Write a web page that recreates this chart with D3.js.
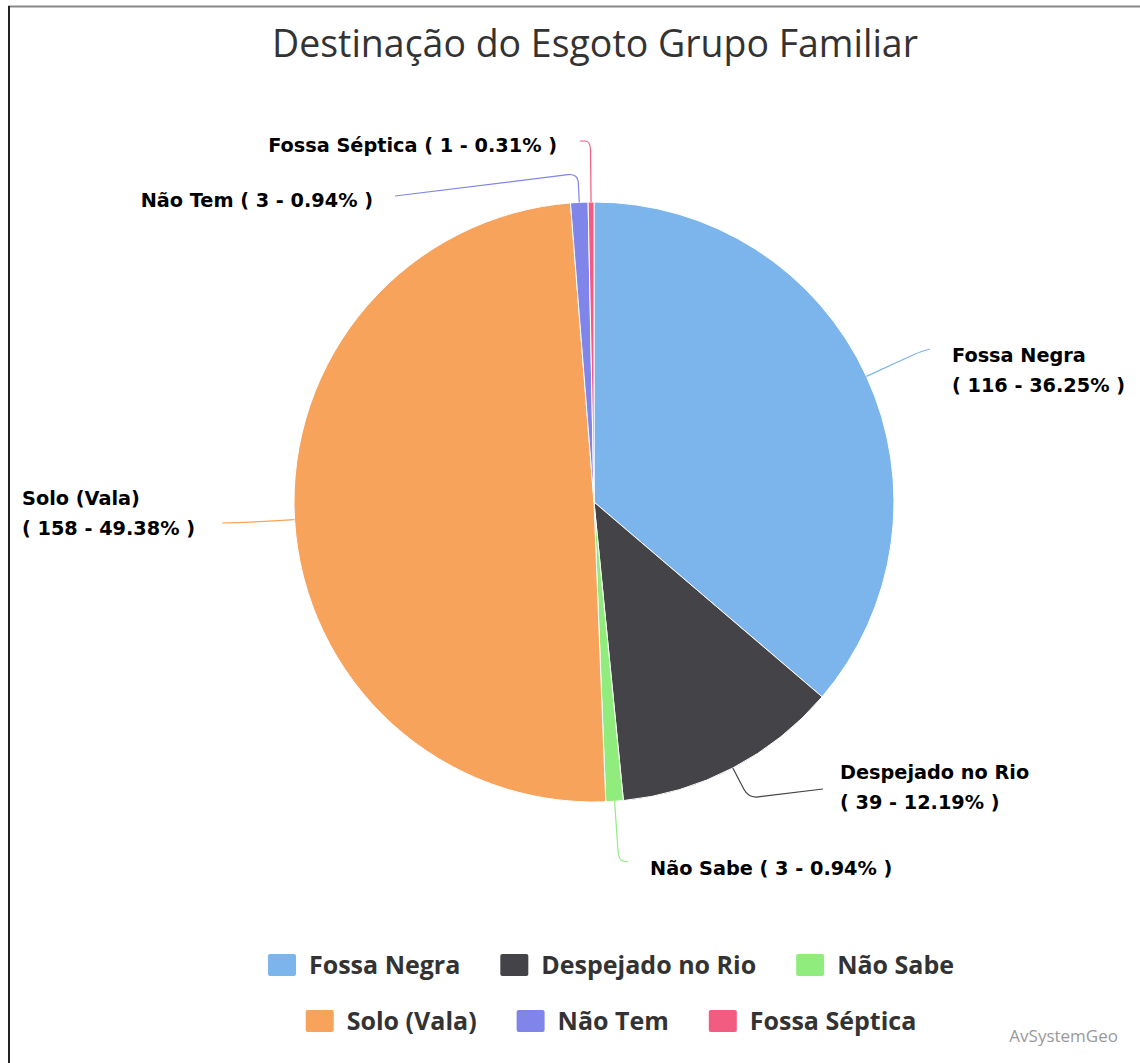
<!DOCTYPE html>
<html>
<head>
<meta charset="utf-8">
<script src="https://cdn.jsdelivr.net/npm/d3@7"></script>
<style>
  body { margin: 0; background: #fff; }
  svg { display: block; }
</style>
</head>
<body>
<script>
// data
const names = ["Fossa Negra", "Despejado no Rio", "Não Sabe", "Solo (Vala)", "Não Tem", "Fossa Séptica"]
const counts = [116, 39, 3, 158, 3, 1]
const colors = ["#7cb5ec", "#434348", "#90ed7d", "#f7a35c", "#8085e9", "#f15c80"]
const legendRows = [[0, 1, 2], [3, 4, 5]]

// label placement (layout only)
const labelPos = [
    { elbow: 357, ex: 930, ey: 349, tx: 952, ty: 362, anchor: "start", split: true },
    { elbow: 334, ex: 823, ey: 789, tx: 840, ty: 779, anchor: "start", split: true },
    { elbow: 359, ex: 628, ey: 862, tx: 650, ty: 875, anchor: "start", split: false },
    { elbow: 340, ex: 222, ey: 523, tx: 22, ty: 505, anchor: "start", split: true },
    { elbow: 329, ex: 395, ey: 196, tx: 373, ty: 207, anchor: "end", split: false },
    { elbow: 361, ex: 580, ey: 141, tx: 557, ty: 152, anchor: "end", split: false }
]

const W = 1140, H = 1063
const cx = 594, cy = 502, R = 300
const total = d3.sum(counts)
const pct = d3.format(".2f")
const narrow = "Liberation Sans Narrow, Open Sans, sans-serif"

const svg = d3.select("body").append("svg")
    .attr("width", W)
    .attr("height", H)

svg.append("rect").attr("width", W).attr("height", H).attr("fill", "#fff")

// frame lines
svg.append("line").attr("x1", 8).attr("x2", W).attr("y1", 6.5).attr("y2", 6.5)
    .attr("stroke", "#888").attr("stroke-width", 2)
svg.append("line").attr("x1", 9).attr("x2", 9).attr("y1", 6).attr("y2", H)
    .attr("stroke", "#222").attr("stroke-width", 2)

svg.append("text")
    .attr("x", 595).attr("y", 57)
    .attr("text-anchor", "middle")
    .attr("font-family", narrow)
    .attr("font-size", 38)
    .attr("fill", "#333")
    .attr("textLength", 646)
    .attr("lengthAdjust", "spacingAndGlyphs")
    .text("Destinação do Esgoto Grupo Familiar")

const pie = d3.pie().sort(null).value(d => d)
const arcs = pie(counts)
const arc = d3.arc().innerRadius(0).outerRadius(R)

const g = svg.append("g").attr("transform", `translate(${cx},${cy})`)

g.selectAll("path.slice")
    .data(arcs)
    .enter()
    .append("path")
    .attr("class", "slice")
    .attr("d", arc)
    .attr("fill", (d, i) => colors[i])
    .attr("stroke", "#fff")
    .attr("stroke-width", 1)
    .attr("stroke-linejoin", "round")

// connectors
function polar(r, a) {
    return [cx + r * Math.sin(a), cy - r * Math.cos(a)]
}
function toward(p, q, dist) {
    const dx = q[0] - p[0], dy = q[1] - p[1]
    const len = Math.sqrt(dx * dx + dy * dy) || 1
    const k = Math.min(dist, len / 2) / len
    return [p[0] + dx * k, p[1] + dy * k]
}

arcs.forEach((d, i) => {
    const lp = labelPos[i]
    const mid = (d.startAngle + d.endAngle) / 2
    const p0 = polar(R, mid)
    const el = polar(lp.elbow, mid)
    const end = [lp.ex, lp.ey]
    const a = toward(el, p0, 10)
    const b = toward(el, end, 10)
    const path = d3.path()
    path.moveTo(p0[0], p0[1])
    path.lineTo(a[0], a[1])
    path.quadraticCurveTo(el[0], el[1], b[0], b[1])
    path.lineTo(end[0], end[1])
    svg.append("path")
        .attr("d", path.toString())
        .attr("fill", "none")
        .attr("stroke", colors[i])
        .attr("stroke-width", 1.2)

    const value = `( ${counts[i]} - ${pct(counts[i] / total * 100)}% )`
    const t = svg.append("text")
        .attr("x", lp.tx).attr("y", lp.ty)
        .attr("text-anchor", lp.anchor)
        .attr("font-family", "DejaVu Sans, sans-serif")
        .attr("font-weight", "bold")
        .attr("font-size", 19.3)
        .attr("fill", "#000")
        .attr("stroke", "#fff")
        .attr("stroke-width", 2)
        .attr("paint-order", "stroke")
    if (lp.split) {
        t.append("tspan").attr("x", lp.tx).text(names[i])
        t.append("tspan").attr("x", lp.tx).attr("dy", 30).text(value)
    } else {
        t.text(`${names[i]} ${value}`)
    }
})

// legend
const rowY = [965, 1021]
legendRows.forEach((row, r) => {
    const lg = svg.append("g")
    let x = 0
    row.forEach(i => {
        const item = lg.append("g").attr("transform", `translate(${x},0)`)
        item.append("rect")
            .attr("x", 0).attr("y", rowY[r] - 11)
            .attr("width", 28).attr("height", 22)
            .attr("rx", 2)
            .attr("fill", colors[i])
        const txt = item.append("text")
            .attr("x", 41).attr("y", rowY[r] + 9)
            .attr("font-family", narrow)
            .attr("font-weight", "bold")
            .attr("font-size", 25)
            .attr("fill", "#333")
            .text(names[i])
        x += 41 + txt.node().getComputedTextLength() + 40
    })
    const w = x - 40
    lg.attr("transform", `translate(${611 - w / 2},0)`)
})

svg.append("text")
    .attr("x", 1118).attr("y", 1042)
    .attr("text-anchor", "end")
    .attr("font-family", narrow)
    .attr("font-size", 17)
    .attr("fill", "#999")
    .text("AvSystemGeo")
</script>
</body>
</html>
